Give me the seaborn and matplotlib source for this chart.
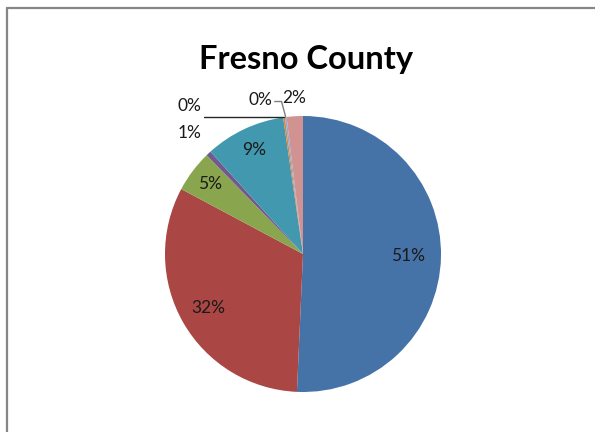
import numpy as np
import matplotlib
matplotlib.use("Agg")
import matplotlib.pyplot as plt
import seaborn as sns
from matplotlib.lines import Line2D

# Share of each group (percent), drawn clockwise from 12 o'clock
groups = ["Group A", "Group B", "Group C", "Group D", "Group E", "Group F", "Group G", "Group H"]
shares = [50.7, 32.1, 4.9, 0.6, 9.4, 0.2, 0.2, 1.9]
colors = ["#4572A7", "#AA4643", "#89A54E", "#71588F", "#4198AF", "#DB843D", "#93A9CF", "#D19392"]
title = "Fresno County"

sns.set_theme(style="white")
plt.rcParams["font.family"] = ["Lato", "DejaVu Sans"]

W, H = 595, 432
fig = plt.figure(figsize=(W / 100, H / 100), dpi=100)
fig.patch.set_facecolor("white")

# Chart-area frame (top and left edges visible)
fig.add_artist(Line2D([6.5 / W, 6.5 / W], [0, 1 - 8 / H], transform=fig.transFigure,
                      color="#868686", lw=1.6))
fig.add_artist(Line2D([6.5 / W, 1.01], [1 - 8 / H, 1 - 8 / H], transform=fig.transFigure,
                      color="#868686", lw=1.6))

cx, cy, r = 303, 254, 138
ax = fig.add_axes([(cx - r) / W, (H - cy - r) / H, 2 * r / W, 2 * r / H])
wedges, _ = ax.pie(shares, colors=colors, startangle=90, counterclock=False,
                   radius=1.0, wedgeprops=dict(linewidth=0))
ax.set_xlim(-1, 1)
ax.set_ylim(-1, 1)
ax.set_aspect("equal")
ax.axis("off")

fig.text(306 / W, 1 - 60 / H, title, ha="center", va="center",
         fontsize=23.5, fontweight="bold", color="black")

labels = ["%.0f%%" % s for s in shares]
# Label placement: inside radius for large slices, outside for small ones
inside_dist = {0: 0.76, 1: 0.79, 2: 0.84, 4: 0.83}
outside_dist = {3: 1.20, 7: 1.13}
# Leader-lined labels: text anchor (axes units) and alignment
leader = {5: ((-0.74, 1.075), "right"), 6: ((-0.225, 1.115), "right")}

for i, w in enumerate(wedges):
    mid = np.deg2rad((w.theta1 + w.theta2) / 2)
    ux, uy = np.cos(mid), np.sin(mid)
    kw = dict(fontsize=12.5, color="#1a1a1a", clip_on=False)
    if i in inside_dist:
        d = inside_dist[i]
        ax.text(d * ux, d * uy, labels[i], ha="center", va="center", **kw)
    elif i in outside_dist:
        d = outside_dist[i]
        ax.text(d * ux, d * uy, labels[i], ha="center", va="center", **kw)
    else:
        (tx, ty), ha = leader[i]
        ax.text(tx, ty, labels[i], ha=ha, va="center", **kw)
        px, py = ux, uy
        if i == 5:
            xs = [tx + 0.02, px]
            ys = [py, py]
            lc = "#262626"
        else:
            xs = [tx + 0.02, px - 0.03, px]
            ys = [ty - 0.01, ty - 0.01, py]
            lc = "#7f7f7f"
        ax.add_line(Line2D(xs, ys, color=lc, lw=1.0, clip_on=False))

fig.savefig("out.png", dpi=100, facecolor="white")
